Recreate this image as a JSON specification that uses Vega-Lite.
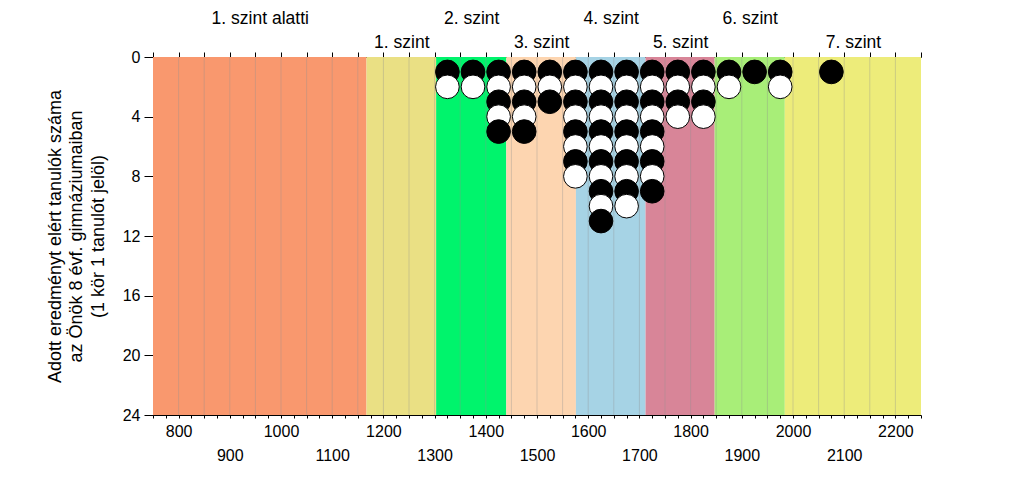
{
  "$schema": "https://vega.github.io/schema/vega-lite/v6.json",
  "width": 768,
  "height": 358,
  "autosize": {"type": "none"},
  "padding": {"left": 153, "top": 57, "right": 103, "bottom": 63},
  "background": "white",
  "config": {
    "view": {"stroke": null},
    "font": "Liberation Sans",
    "axis": {"labelFont": "Liberation Sans", "titleFont": "Liberation Sans", "labelColor": "black", "titleColor": "black", "domainColor": "black", "tickColor": "black", "grid": false}
  },
  "datasets": {
    "szintek": [
      {"szint": "1. szint alatti", "tol": 750, "ig": 1167},
      {"szint": "1. szint", "tol": 1167, "ig": 1303},
      {"szint": "2. szint", "tol": 1303, "ig": 1440},
      {"szint": "3. szint", "tol": 1440, "ig": 1576},
      {"szint": "4. szint", "tol": 1576, "ig": 1712},
      {"szint": "5. szint", "tol": 1712, "ig": 1847},
      {"szint": "6. szint", "tol": 1847, "ig": 1984},
      {"szint": "7. szint", "tol": 1984, "ig": 2250}
    ],
    "racs": [
      {"x": 800}, {"x": 850}, {"x": 900}, {"x": 950}, {"x": 1000}, {"x": 1050}, {"x": 1100}, {"x": 1150},
      {"x": 1200}, {"x": 1250}, {"x": 1300}, {"x": 1350}, {"x": 1400}, {"x": 1450}, {"x": 1500}, {"x": 1550},
      {"x": 1600}, {"x": 1650}, {"x": 1700}, {"x": 1750}, {"x": 1800}, {"x": 1850}, {"x": 1900}, {"x": 1950},
      {"x": 2000}, {"x": 2050}, {"x": 2100}, {"x": 2150}, {"x": 2200}
    ],
    "tanulok": [
      {"pont": 1325, "db": 1, "szin": "fekete"}, {"pont": 1325, "db": 2, "szin": "fehér"},
      {"pont": 1375, "db": 1, "szin": "fekete"}, {"pont": 1375, "db": 2, "szin": "fehér"},
      {"pont": 1425, "db": 1, "szin": "fekete"}, {"pont": 1425, "db": 2, "szin": "fehér"}, {"pont": 1425, "db": 3, "szin": "fekete"}, {"pont": 1425, "db": 4, "szin": "fehér"}, {"pont": 1425, "db": 5, "szin": "fekete"},
      {"pont": 1475, "db": 1, "szin": "fekete"}, {"pont": 1475, "db": 2, "szin": "fehér"}, {"pont": 1475, "db": 3, "szin": "fekete"}, {"pont": 1475, "db": 4, "szin": "fehér"}, {"pont": 1475, "db": 5, "szin": "fekete"},
      {"pont": 1525, "db": 1, "szin": "fekete"}, {"pont": 1525, "db": 2, "szin": "fehér"}, {"pont": 1525, "db": 3, "szin": "fekete"},
      {"pont": 1575, "db": 1, "szin": "fekete"}, {"pont": 1575, "db": 2, "szin": "fehér"}, {"pont": 1575, "db": 3, "szin": "fekete"}, {"pont": 1575, "db": 4, "szin": "fehér"}, {"pont": 1575, "db": 5, "szin": "fekete"}, {"pont": 1575, "db": 6, "szin": "fehér"}, {"pont": 1575, "db": 7, "szin": "fekete"}, {"pont": 1575, "db": 8, "szin": "fehér"},
      {"pont": 1625, "db": 1, "szin": "fekete"}, {"pont": 1625, "db": 2, "szin": "fehér"}, {"pont": 1625, "db": 3, "szin": "fekete"}, {"pont": 1625, "db": 4, "szin": "fehér"}, {"pont": 1625, "db": 5, "szin": "fekete"}, {"pont": 1625, "db": 6, "szin": "fehér"}, {"pont": 1625, "db": 7, "szin": "fekete"}, {"pont": 1625, "db": 8, "szin": "fehér"}, {"pont": 1625, "db": 9, "szin": "fekete"}, {"pont": 1625, "db": 10, "szin": "fehér"}, {"pont": 1625, "db": 11, "szin": "fekete"},
      {"pont": 1675, "db": 1, "szin": "fekete"}, {"pont": 1675, "db": 2, "szin": "fehér"}, {"pont": 1675, "db": 3, "szin": "fekete"}, {"pont": 1675, "db": 4, "szin": "fehér"}, {"pont": 1675, "db": 5, "szin": "fekete"}, {"pont": 1675, "db": 6, "szin": "fehér"}, {"pont": 1675, "db": 7, "szin": "fekete"}, {"pont": 1675, "db": 8, "szin": "fehér"}, {"pont": 1675, "db": 9, "szin": "fekete"}, {"pont": 1675, "db": 10, "szin": "fehér"},
      {"pont": 1725, "db": 1, "szin": "fekete"}, {"pont": 1725, "db": 2, "szin": "fehér"}, {"pont": 1725, "db": 3, "szin": "fekete"}, {"pont": 1725, "db": 4, "szin": "fehér"}, {"pont": 1725, "db": 5, "szin": "fekete"}, {"pont": 1725, "db": 6, "szin": "fehér"}, {"pont": 1725, "db": 7, "szin": "fekete"}, {"pont": 1725, "db": 8, "szin": "fehér"}, {"pont": 1725, "db": 9, "szin": "fekete"},
      {"pont": 1775, "db": 1, "szin": "fekete"}, {"pont": 1775, "db": 2, "szin": "fehér"}, {"pont": 1775, "db": 3, "szin": "fekete"}, {"pont": 1775, "db": 4, "szin": "fehér"},
      {"pont": 1825, "db": 1, "szin": "fekete"}, {"pont": 1825, "db": 2, "szin": "fehér"}, {"pont": 1825, "db": 3, "szin": "fekete"}, {"pont": 1825, "db": 4, "szin": "fehér"},
      {"pont": 1875, "db": 1, "szin": "fekete"}, {"pont": 1875, "db": 2, "szin": "fehér"},
      {"pont": 1925, "db": 1, "szin": "fekete"},
      {"pont": 1975, "db": 1, "szin": "fekete"}, {"pont": 1975, "db": 2, "szin": "fehér"},
      {"pont": 2075, "db": 1, "szin": "fekete"}
    ]
  },
  "resolve": {"axis": {"x": "independent"}},
  "layer": [
    {
      "data": {"name": "szintek"},
      "mark": {"type": "rect"},
      "encoding": {
        "x": {
          "field": "tol", "type": "quantitative",
          "scale": {"domain": [750, 2250], "nice": false, "zero": false},
          "axis": {
            "orient": "bottom", "title": null, "format": "d",
            "values": [750, 775, 800, 825, 850, 875, 900, 925, 950, 975, 1000, 1025, 1050, 1075, 1100, 1125, 1150, 1175, 1200, 1225, 1250, 1275, 1300, 1325, 1350, 1375, 1400, 1425, 1450, 1475, 1500, 1525, 1550, 1575, 1600, 1625, 1650, 1675, 1700, 1725, 1750, 1775, 1800, 1825, 1850, 1875, 1900, 1925, 1950, 1975, 2000, 2025, 2050, 2075, 2100, 2125, 2150, 2175, 2200, 2225, 2250],
            "labelExpr": "datum.value % 200 == 0 ? [datum.label, ''] : (datum.value % 100 == 0 ? ['', datum.label] : '')",
            "labelOverlap": false, "labelFlush": false,
            "tickSize": 3, "labelPadding": 5, "labelFontSize": 16, "labelLineHeight": 24, "labelBaseline": "top"
          }
        },
        "x2": {"field": "ig"},
        "color": {
          "field": "szint", "type": "nominal", "legend": null,
          "scale": {
            "domain": ["1. szint alatti", "1. szint", "2. szint", "3. szint", "4. szint", "5. szint", "6. szint", "7. szint"],
            "range": ["#F9986E", "#EAE084", "#00F46C", "#FDD5B0", "#A6D3E5", "#D88598", "#A8EE78", "#EDEC7A"]
          }
        }
      }
    },
    {
      "data": {"name": "racs"},
      "mark": {"type": "rule", "color": "#909090", "strokeWidth": 1, "opacity": 0.35},
      "encoding": {
        "x": {
          "field": "x", "type": "quantitative",
          "axis": {
            "orient": "top", "title": null, "labels": false,
            "values": [750, 800, 850, 900, 950, 1000, 1050, 1100, 1150, 1200, 1250, 1300, 1350, 1400, 1450, 1500, 1550, 1600, 1650, 1700, 1750, 1800, 1850, 1900, 1950, 2000, 2050, 2100, 2150, 2200, 2250],
            "tickSize": 5
          }
        }
      }
    },
    {
      "data": {"name": "tanulok"},
      "mark": {"type": "point", "shape": "circle", "filled": true, "size": 560, "stroke": "black", "strokeWidth": 1, "opacity": 1},
      "encoding": {
        "x": {
          "field": "pont", "type": "quantitative",
          "axis": {
            "orient": "top", "title": null, "domain": false, "ticks": false,
            "values": [958.5, 1235, 1371.5, 1508, 1644, 1779.5, 1915.5, 2117],
            "labelExpr": "datum.value < 1000 ? ['1. szint alatti', ''] : datum.value < 1300 ? ['', '1. szint'] : datum.value < 1400 ? ['2. szint', ''] : datum.value < 1600 ? ['', '3. szint'] : datum.value < 1700 ? ['4. szint', ''] : datum.value < 1850 ? ['', '5. szint'] : datum.value < 2000 ? ['6. szint', ''] : ['', '7. szint']",
            "labelOverlap": false, "labelFlush": false,
            "labelPadding": 30, "labelFontSize": 17.5, "labelLineHeight": 24
          }
        },
        "y": {
          "field": "db", "type": "quantitative",
          "scale": {"domain": [0, 24], "nice": false, "reverse": true},
          "axis": {
            "values": [0, 4, 8, 12, 16, 20, 24],
            "tickSize": 9, "labelPadding": 4, "labelFontSize": 16,
            "title": ["Adott eredményt elért tanulók száma", "az Önök 8 évf. gimnáziumaiban", "(1 kör 1 tanulót jelöl)"],
            "titleFontSize": 18, "titleFontWeight": "normal", "titleLineHeight": 21.5, "titlePadding": 15
          }
        },
        "fill": {
          "field": "szin", "type": "nominal", "legend": null,
          "scale": {"domain": ["fekete", "fehér"], "range": ["black", "white"]}
        }
      }
    }
  ]
}
